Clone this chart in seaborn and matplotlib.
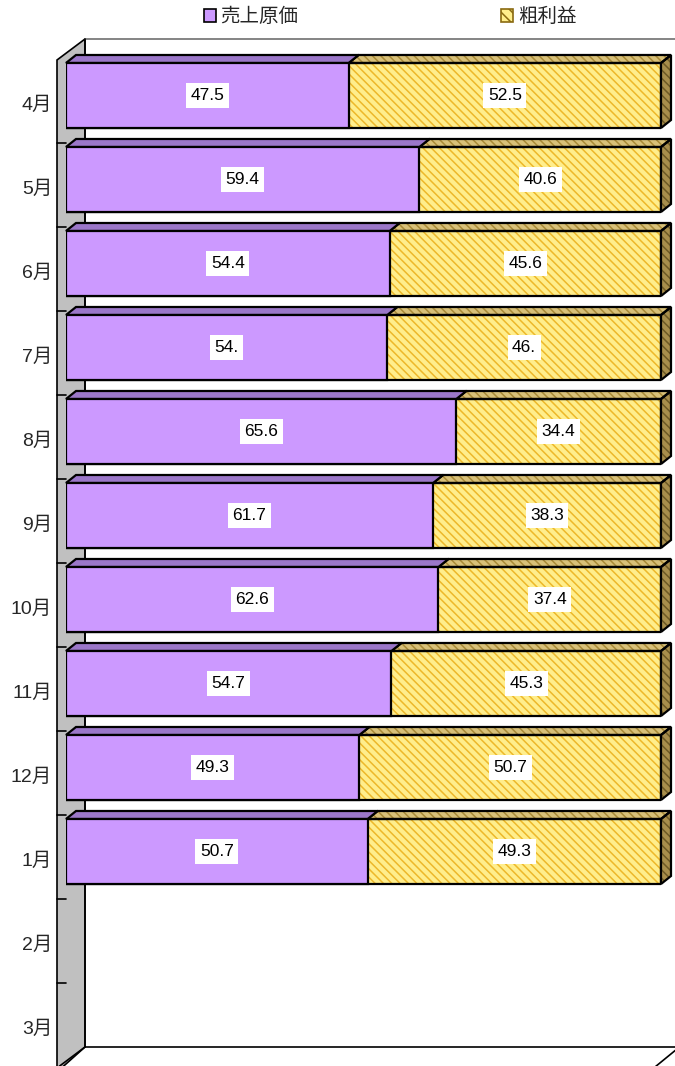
import numpy as np
import pandas as pd
import matplotlib
matplotlib.use("Agg")
import matplotlib.pyplot as plt
import seaborn as sns
from matplotlib.patches import Polygon, Rectangle, Patch
from matplotlib.lines import Line2D
import matplotlib.transforms as mtransforms

# ---------------- data ----------------
months = ['4月', '5月', '6月', '7月', '8月', '9月', '10月', '11月', '12月', '1月', '2月', '3月']
cost = [47.5, 59.4, 54.4, 54.0, 65.6, 61.7, 62.6, 54.7, 49.3, 50.7, np.nan, np.nan]
profit = [52.5, 40.6, 45.6, 46.0, 34.4, 38.3, 37.4, 45.3, 50.7, 49.3, np.nan, np.nan]
cost_labels = ['47.5', '59.4', '54.4', '54.', '65.6', '61.7', '62.6', '54.7', '49.3', '50.7', '', '']
profit_labels = ['52.5', '40.6', '45.6', '46.', '34.4', '38.3', '37.4', '45.3', '50.7', '49.3', '', '']
series = ['売上原価', '粗利益']

# ---------------- style ----------------
sns.set_style("white")
plt.rcParams['font.family'] = ['Liberation Sans', 'Noto Sans CJK JP', 'DejaVu Sans']
plt.rcParams['hatch.linewidth'] = 1.1

W, H = 675, 1066
fig = plt.figure(figsize=(W / 100, H / 100), dpi=100)
fig.patch.set_facecolor('white')


def px(x, y):
    return (x / W, 1 - y / H)


# axes: value 0 -> x=66px, 100 -> x=661px; category spacing 84px
ax = fig.add_axes([66 / W, (H - 1061.5) / H, 595 / W, 1008 / H])
ax.patch.set_visible(False)

PURPLE = '#CC99FF'
PURPLE_TOP = '#9B77C9'
YEL = '#FFEE8C'
YEL_HATCH = '#EDB82A'
YEL_TOP = '#D8C078'
YEL_TOP_HATCH = '#A88A38'
YEL_SIDE = '#A88E4C'
YEL_SIDE_HATCH = '#6E5A26'
HATCH = '\\' * 4

df = pd.DataFrame({'month': months, 'cost': cost, 'profit': profit})
df['total'] = df['cost'] + df['profit']
dfd = df.dropna()

BW = 0.774
sns.barplot(data=dfd, y='month', x='total', order=months, orient='h',
            color=YEL, width=BW, errorbar=None, ax=ax, saturation=1)
sns.barplot(data=dfd, y='month', x='cost', order=months, orient='h',
            color=PURPLE, width=BW, errorbar=None, ax=ax, saturation=1)

ax.set_xlim(0, 100)
ax.set_ylim(11.5, -0.5)

tot_bars = ax.containers[0]
cost_bars = ax.containers[1]

# depth offsets (data units)
DX = 10 / 595 * 100
DY = 8 / 84

for p in tot_bars:
    p.set_hatch(HATCH)
    p.set_edgecolor(YEL_HATCH)
    p.set_linewidth(0)
    p.set_zorder(2)
for p in cost_bars:
    p.set_edgecolor('black')
    p.set_linewidth(1.6)
    p.set_zorder(4)

for pt, pc in zip(tot_bars, cost_bars):
    x0, y0, w, h = pt.get_x(), pt.get_y(), pt.get_width(), pt.get_height()
    xc = pc.get_width()
    ytop = min(y0, y0 + h)
    ybot = max(y0, y0 + h)
    # outline of yellow front
    ax.add_patch(Rectangle((x0, y0), w, h, fill=False, edgecolor='black',
                           linewidth=1.6, zorder=3))
    # top face of yellow segment
    top_y = [(xc, ytop), (x0 + w, ytop), (x0 + w + DX, ytop - DY), (xc + DX, ytop - DY)]
    ax.add_patch(Polygon(top_y, closed=True, facecolor=YEL_TOP, edgecolor=YEL_TOP_HATCH,
                         linewidth=0, hatch=HATCH, zorder=2, clip_on=False))
    ax.add_patch(Polygon(top_y, closed=True, fill=False, edgecolor='black',
                         linewidth=1.6, zorder=3, clip_on=False))
    # side face
    side = [(x0 + w, ytop), (x0 + w, ybot), (x0 + w + DX, ybot - DY), (x0 + w + DX, ytop - DY)]
    ax.add_patch(Polygon(side, closed=True, facecolor=YEL_SIDE, edgecolor=YEL_SIDE_HATCH,
                         linewidth=0, hatch=HATCH, zorder=2, clip_on=False))
    ax.add_patch(Polygon(side, closed=True, fill=False, edgecolor='black',
                         linewidth=1.6, zorder=3, clip_on=False))
    # top face of purple segment
    top_p = [(x0, ytop), (xc, ytop), (xc + DX, ytop - DY), (x0 + DX, ytop - DY)]
    ax.add_patch(Polygon(top_p, closed=True, facecolor=PURPLE_TOP, edgecolor='black',
                         linewidth=1.6, zorder=3, clip_on=False))

# data labels
for i, m in enumerate(months):
    c, pr = cost[i], profit[i]
    if np.isnan(c):
        continue
    for xpos, lab in ((c / 2, cost_labels[i]), (c + pr / 2, profit_labels[i])):
        ax.text(xpos, i, lab, ha='center', va='center', fontsize=12.5,
                color='black', zorder=6,
                bbox=dict(boxstyle='square,pad=0.26', facecolor='white', edgecolor='none'))

# axis styling
for s in ax.spines.values():
    s.set_visible(False)
ax.set_xticks([])
ax.set_xlabel('')
ax.set_ylabel('')
ax.set_yticks(np.arange(len(months)) + 0.09, labels=months)
ax.tick_params(axis='y', length=0, pad=10, labelsize=14)

# category boundary ticks on wall front
tr = mtransforms.blended_transform_factory(ax.transAxes, ax.transData)
for b in np.arange(0.5, len(months) - 0.5, 1.0):
    ax.add_line(Line2D([-9 / 595, 0], [b + 0.07, b + 0.07], transform=tr,
                       color='black', linewidth=1.2, zorder=1, clip_on=False))

# ---------------- 3D frame (walls / floor) ----------------
wall = Polygon([px(57, 60), px(85, 39), px(85, 1047), px(57, 1072)], closed=True,
               facecolor='#C0C0C0', edgecolor='black', linewidth=1.2,
               transform=fig.transFigure, zorder=-2)
fig.add_artist(wall)
frame_lines = [
    ([85, 676], [39, 39], '#707070'),
    ([85, 85], [39, 1047], 'black'),
    ([85, 676], [1047, 1047], 'black'),
    ([57, 85], [1068, 1047], 'black'),
    ([655, 677], [1067, 1049], 'black'),
]
for xs, ys, col in frame_lines:
    fig.add_artist(Line2D([x / W for x in xs], [1 - y / H for y in ys],
                          transform=fig.transFigure, color=col, linewidth=1.2, zorder=-1))

# ---------------- legend ----------------
handles = [Patch(facecolor=PURPLE, edgecolor='black', linewidth=1.2),
           Patch(facecolor=YEL, edgecolor='#8A6A10', hatch='\\\\\\', linewidth=1.2)]
leg = fig.legend(handles, series, loc='center', bbox_to_anchor=px(390, 17),
                 ncol=2, frameon=False, fontsize=14, handlelength=0.62,
                 handleheight=0.62, handletextpad=0.26, columnspacing=10.4,
                 borderaxespad=0)

fig.savefig('out.png', dpi=100)
